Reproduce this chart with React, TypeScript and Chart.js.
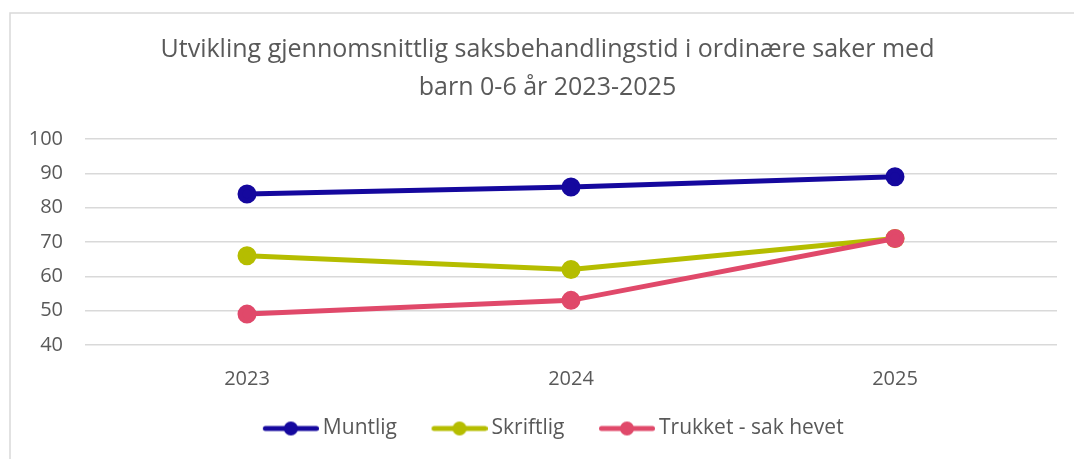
import React, { useEffect, useRef } from "react";
import { Chart, registerables } from "chart.js";

Chart.register(...registerables);

const titleLines = ["Utvikling gjennomsnittlig saksbehandlingstid i ordinære saker med", "barn 0-6 år 2023-2025"];
const categories = ["2023", "2024", "2025"];
const seriesNames = ["Muntlig", "Skriftlig", "Trukket - sak hevet"];
const muntlig = [84, 86, 89];
const skriftlig = [66, 62, 71];
const trukket = [49, 53, 71];
const seriesColors = ["#15089e", "#b5bd00", "#e0496a"];
const yMin = 40;
const yMax = 100;
const yStep = 10;

const FONT = "'Open Sans', 'DejaVu Sans', sans-serif";
const TEXT = "#595959";

function legendImage(color: string): HTMLCanvasElement {
  const c = document.createElement("canvas");
  c.width = 84;
  c.height = 16;
  const ctx = c.getContext("2d")!;
  ctx.strokeStyle = color;
  ctx.lineWidth = 5;
  ctx.lineCap = "round";
  ctx.beginPath();
  ctx.moveTo(30.5, 8);
  ctx.lineTo(81.5, 8);
  ctx.stroke();
  ctx.fillStyle = color;
  ctx.beginPath();
  ctx.arc(56, 8, 7, 0, Math.PI * 2);
  ctx.fill();
  return c;
}

const framePlugin = {
  id: "frame",
  beforeDraw(chart: any) {
    const ctx = chart.ctx;
    ctx.save();
    ctx.fillStyle = "#ffffff";
    ctx.fillRect(0, 0, chart.width, chart.height);
    ctx.strokeStyle = "#d9d9d9";
    ctx.lineWidth = 1.5;
    ctx.beginPath();
    ctx.moveTo(10, chart.height);
    ctx.lineTo(10, 13);
    ctx.lineTo(chart.width, 13);
    ctx.stroke();
    ctx.restore();
  },
  afterLayout(chart: any) {
    if (chart.legend) {
      chart.legend.left -= 5;
      chart.legend.right -= 5;
    }
  },
};

export default function App() {
  const ref = useRef<HTMLCanvasElement>(null);
  useEffect(() => {
    const values = [muntlig, skriftlig, trukket];
    const orders = [1, 2, 0];
    const chart = new Chart(ref.current!, {
      type: "line",
      data: {
        labels: categories,
        datasets: seriesNames.map((name, i) => ({
          label: name,
          data: values[i],
          borderColor: seriesColors[i],
          backgroundColor: seriesColors[i],
          pointBackgroundColor: seriesColors[i],
          pointBorderColor: seriesColors[i],
          borderWidth: 5,
          pointRadius: 7,
          pointHoverRadius: 7,
          pointStyle: "circle",
          order: orders[i],
          tension: 0,
        })),
      },
      options: {
        responsive: false,
        animation: false,
        devicePixelRatio: 1,
        layout: { padding: { left: 38, right: 17, top: 0, bottom: 10 } },
        plugins: {
          title: {
            display: true,
            text: titleLines,
            color: TEXT,
            font: { family: FONT, size: 25, weight: "normal", lineHeight: 1.52 },
            padding: { top: 31, bottom: 32 },
          },
          legend: {
            position: "bottom",
            labels: {
              usePointStyle: true,
              pointStyleWidth: 71,
              padding: 13,
              color: TEXT,
              font: { family: FONT, size: 21 },
              generateLabels: (chart: any) =>
                chart.data.datasets.map((ds: any, i: number) => ({
                  text: ds.label,
                  fillStyle: ds.borderColor,
                  strokeStyle: ds.borderColor,
                  fontColor: TEXT,
                  lineWidth: 0,
                  pointStyle: legendImage(ds.borderColor),
                  datasetIndex: i,
                  hidden: false,
                })),
            },
          },
          tooltip: { enabled: false },
        },
        scales: {
          x: {
            offset: true,
            grid: { display: false },
            border: { display: false },
            ticks: { color: TEXT, font: { family: FONT, size: 20 }, padding: 14 },
          },
          y: {
            min: yMin,
            max: yMax,
            grid: { color: "#d9d9d9", lineWidth: 1.5, drawTicks: false },
            border: { display: false },
            ticks: { stepSize: yStep, color: TEXT, font: { family: FONT, size: 20 }, padding: 22 },
            afterFit: (s: any) => {
              s.width = 47;
              s._computeLabelArea = () => undefined;
            },
          },
        },
      },
      plugins: [framePlugin],
    });
    return () => chart.destroy();
  }, []);
  return (
    <div style={{ position: "fixed", left: 0, top: 0, width: 1074, height: 459 }}>
      <canvas ref={ref} width={1074} height={459} style={{ display: "block" }} />
    </div>
  );
}
